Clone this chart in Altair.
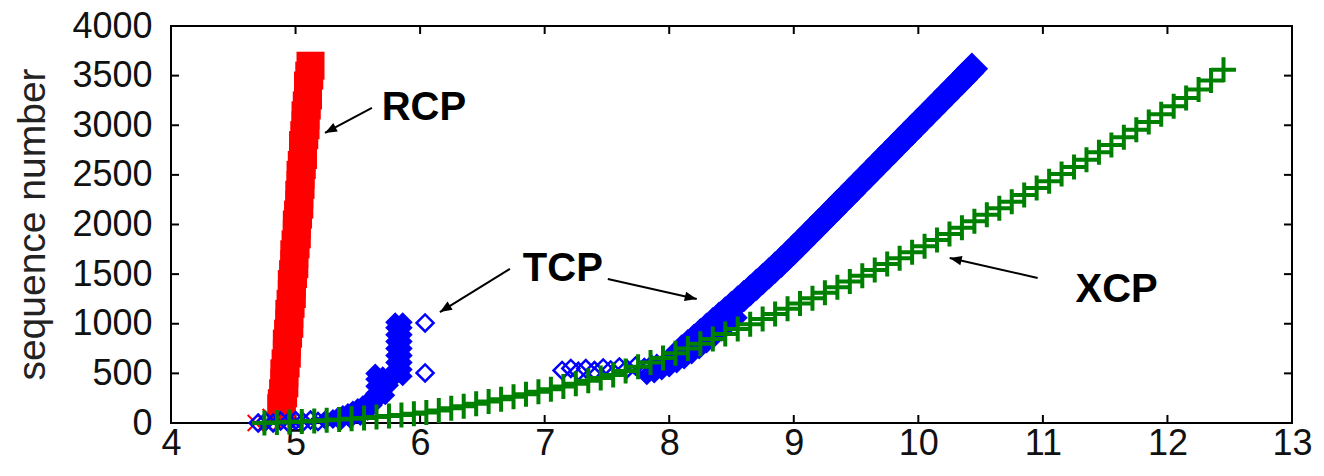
import altair as alt
import pandas as pd

# ---------------- data ----------------
x_ticks = [4, 5, 6, 7, 8, 9, 10, 11, 12, 13]
y_ticks = [0, 500, 1000, 1500, 2000, 2500, 3000, 3500, 4000]

# RCP (red) - dense steep band
rcp_seq = [150, 200, 300, 400, 500, 600, 700, 800, 900, 1000, 1100, 1200, 1300,
           1400, 1500, 1600, 1700, 1800, 1900, 2000, 2100, 2200, 2300, 2400, 2500,
           2600, 2700, 2800, 2900, 3000, 3100, 3200, 3300, 3400, 3500, 3600]
rcp_time = [4.885, 4.89, 4.90, 4.91, 4.91, 4.92, 4.93, 4.93, 4.94, 4.95, 4.95,
            4.96, 4.97, 4.97, 4.98, 4.99, 4.99, 5.00, 5.01, 5.01, 5.02, 5.03, 5.03,
            5.04, 5.04, 5.05, 5.06, 5.06, 5.07, 5.08, 5.08, 5.09, 5.10, 5.10, 5.11, 5.12]
# RCP sparse start points (crosses near zero)
rcp_start_time = [4.68, 4.76, 4.82, 4.88, 4.94, 4.80, 4.90]
rcp_start_seq = [0, 0, 20, 0, 30, 60, 80]

# TCP (blue) - sparse open diamonds
tcp_open_time = [4.70, 4.76, 4.82, 4.88, 4.94, 5.00, 5.06, 5.12, 5.18,
                 6.04, 6.04,
                 7.14, 7.21, 7.27, 7.33, 7.40, 7.47, 7.53, 7.60, 7.66, 7.73, 7.80, 7.86, 7.92]
tcp_open_seq = [0, 15, 0, 20, 5, 25, 10, 30, 15,
                1008, 504,
                530, 550, 520, 548, 528, 555, 535, 565, 545, 575, 560, 590, 575]
# TCP dense clusters (small)
tcp_fill_time = [5.24, 5.30, 5.34, 5.38, 5.42, 5.46, 5.50, 5.54, 5.58,
                 5.36, 5.44, 5.52, 5.58, 5.62, 5.66, 5.72,
                 5.64, 5.64, 5.64, 5.64, 5.70, 5.70, 5.70, 5.75, 5.75,
                 5.80, 5.80, 5.80, 5.80, 5.80, 5.80, 5.80, 5.80, 5.80,
                 5.86, 5.86, 5.86, 5.86, 5.86, 5.86, 5.86, 5.86, 5.86,
                 7.82, 7.88, 7.94, 8.00, 8.06, 8.12, 8.18, 8.24, 8.30,
                 7.90, 7.98, 8.05, 8.36, 8.42, 8.48, 8.55]
tcp_fill_seq = [30, 40, 60, 80, 100, 125, 150, 180, 220,
                20, 40, 70, 120, 180, 240, 280,
                300, 370, 440, 500, 330, 400, 470, 380, 450,
                470, 540, 610, 680, 750, 820, 890, 960, 1015,
                470, 540, 610, 680, 750, 820, 890, 960, 1015,
                480, 500, 530, 560, 600, 640, 690, 740, 800,
                600, 640, 690, 860, 920, 990, 1060]
# TCP dense main band
tcp_band_time = [8.10, 8.15, 8.20, 8.25, 8.30, 8.35, 8.40, 8.45, 8.50, 8.55, 8.60,
                 8.65, 8.70, 8.75, 8.80, 8.85, 8.90, 8.95, 9.00, 9.05, 9.10, 9.15,
                 9.20, 9.25, 9.30, 9.35, 9.40, 9.45, 9.50, 9.55, 9.60, 9.65, 9.70,
                 9.75, 9.80, 9.85, 9.90, 9.95, 10.00, 10.05, 10.10, 10.15, 10.20,
                 10.25, 10.30, 10.35, 10.40, 10.43]
tcp_band_seq = [730, 785, 840, 895, 950, 1005, 1060, 1115, 1170, 1225, 1280,
                1336, 1393, 1450, 1508, 1566, 1625, 1686, 1748, 1810, 1873, 1937,
                2000, 2064, 2127, 2191, 2255, 2318, 2382, 2446, 2509, 2573, 2637,
                2700, 2764, 2828, 2891, 2955, 3019, 3082, 3146, 3210, 3273,
                3337, 3400, 3464, 3528, 3570]

# XCP (green)
xcp_time = [4.75, 4.85, 4.95, 5.05, 5.15, 5.25, 5.35, 5.45, 5.55, 5.65, 5.75, 5.85,
            5.95, 6.05, 6.15, 6.25, 6.35, 6.45, 6.55, 6.65, 6.75, 6.85, 6.95, 7.05,
            7.15, 7.25, 7.35, 7.45, 7.55, 7.65, 7.75, 7.85, 7.95, 8.05, 8.15, 8.25,
            8.35, 8.45, 8.55, 8.65, 8.75, 8.85, 8.95, 9.05, 9.15, 9.25, 9.35, 9.45,
            9.55, 9.65, 9.75, 9.85, 9.95, 10.05, 10.15, 10.25, 10.35, 10.45, 10.55,
            10.65, 10.75, 10.85, 10.95, 11.05, 11.15, 11.25, 11.35, 11.45, 11.55,
            11.65, 11.75, 11.85, 11.95, 12.05, 12.15, 12.25, 12.35, 12.45]
xcp_seq = [0, 4, 9, 15, 21, 28, 35, 43, 51, 60, 70, 80,
           92, 106, 126, 148, 170, 193, 216, 240, 264, 289, 315, 341,
           368, 396, 425, 454, 484, 525, 567, 610, 655, 702, 750, 798,
           847, 896, 946, 996, 1047, 1098, 1150, 1203, 1257, 1312, 1368, 1425,
           1483, 1542, 1601, 1661, 1721, 1782, 1843, 1905, 1968, 2032, 2097,
           2163, 2230, 2298, 2367, 2437, 2508, 2580, 2653, 2727, 2802,
           2878, 2955, 3033, 3112, 3192, 3275, 3360, 3450, 3560]

# annotations
ann_text = ["RCP", "TCP", "XCP"]
ann_x = [6.03, 7.146, 11.592]
ann_y = [3174, 1552, 1340]

arrow_x = [5.613, 6.721, 7.507, 10.958]
arrow_y = [3174, 1552, 1451, 1461]
arrow_x2 = [5.236, 6.159, 8.221, 10.252]
arrow_y2 = [2922, 1118, 1249, 1663]
arrow_angle = [242, 238, 103, 283]

# ---------------- chart ----------------
W, H = 1121, 397
FONT = "Liberation Sans"
RED, BLUE, GREEN = "#ff0000", "#0000ff", "#008000"

xscale = alt.Scale(domain=[4, 13], nice=False, zero=False)
yscale = alt.Scale(domain=[0, 4000], nice=False)
xaxis = alt.Axis(values=x_ticks, ticks=False, tickSize=0, domain=False, grid=False,
                 labelFontSize=36, labelPadding=3, labelFlush=False, labelOverlap=False,
                 title=None, labelColor="#111111", labelFont=FONT, format="d")
yaxis = alt.Axis(values=y_ticks, ticks=False, tickSize=0, domain=False, grid=False,
                 labelFontSize=36, labelPadding=19, labelOverlap=False, format="d",
                 labelColor="#111111", labelFont=FONT,
                 title="sequence number", titleFontSize=39, titleFontWeight="normal",
                 titleFont=FONT, titleColor="#222222", titleAngle=270,
                 titleX=-139, titleY=198, titleAlign="center", titleBaseline="middle")


def X(f):
    return alt.X(f, type="quantitative", scale=xscale, axis=xaxis)


def Y(f):
    return alt.Y(f, type="quantitative", scale=yscale, axis=yaxis)


rcp = pd.DataFrame({"time": rcp_time, "seq": rcp_seq})
rcp_s = pd.DataFrame({"time": rcp_start_time, "seq": rcp_start_seq})
tcp_o = pd.DataFrame({"time": tcp_open_time, "seq": tcp_open_seq})
tcp_f = pd.DataFrame({"time": tcp_fill_time, "seq": tcp_fill_seq})
tcp_b = pd.DataFrame({"time": tcp_band_time, "seq": tcp_band_seq})
xcp = pd.DataFrame({"time": xcp_time, "seq": xcp_seq})
ann = pd.DataFrame({"label": ann_text, "time": ann_x, "seq": ann_y})
arr = pd.DataFrame({"time": arrow_x, "seq": arrow_y, "time2": arrow_x2,
                    "seq2": arrow_y2, "ang": arrow_angle})
xt = pd.DataFrame({"time": x_ticks})
yt = pd.DataFrame({"seq": y_ticks})

XSHAPE = "M-1,-1L1,1M-1,1L1,-1"
PLUS = "M-1,0L1,0M0,-1L0,1"
HEAD = "M0,0L0.4,1L-0.4,1Z"

l_rcp = alt.Chart(rcp).mark_point(shape="square", filled=True, size=784, color=RED,
                                  opacity=1).encode(x=X("time"), y=Y("seq"))
l_rcp_s = alt.Chart(rcp_s).mark_point(shape=XSHAPE, filled=False, size=256, color=RED,
                                      strokeWidth=2, opacity=1).encode(x=X("time"), y=Y("seq"))
l_tcp_b = alt.Chart(tcp_b).mark_point(shape="diamond", filled=True, size=1050, color=BLUE,
                                      opacity=1).encode(x=X("time"), y=Y("seq"))
l_tcp_f = alt.Chart(tcp_f).mark_point(shape="diamond", filled=True, size=400, color=BLUE,
                                      opacity=1).encode(x=X("time"), y=Y("seq"))
l_tcp_o = alt.Chart(tcp_o).mark_point(shape="diamond", filled=False, size=289, color=BLUE,
                                      strokeWidth=2.5, opacity=1).encode(x=X("time"), y=Y("seq"))
l_xcp = alt.Chart(xcp).mark_point(shape=PLUS, filled=False, size=625, color=GREEN,
                                  strokeWidth=4, opacity=1).encode(x=X("time"), y=Y("seq"))

l_arr = alt.Chart(arr).mark_rule(color="black", strokeWidth=2).encode(
    x=X("time"), y=Y("seq"), x2="time2", y2="seq2")
l_head = alt.Chart(arr).mark_point(shape=HEAD, filled=True, size=576, color="black",
                                   opacity=1).encode(
    x=X("time2"), y=Y("seq2"), angle=alt.Angle("ang:Q", scale=None))
l_txt = alt.Chart(ann).mark_text(fontSize=40, fontWeight="bold", font=FONT, color="black",
                                 align="center", baseline="middle").encode(
    x=X("time"), y=Y("seq"), text="label:N")

TK = 8
l_tb = alt.Chart(xt).mark_rule(color="black", strokeWidth=2).encode(
    x=X("time"), y=alt.value(H), y2=alt.value(H - TK))
l_tt = alt.Chart(xt).mark_rule(color="black", strokeWidth=2).encode(
    x=X("time"), y=alt.value(0), y2=alt.value(TK))
l_tl = alt.Chart(yt).mark_rule(color="black", strokeWidth=2).encode(
    y=Y("seq"), x=alt.value(0), x2=alt.value(TK))
l_tr = alt.Chart(yt).mark_rule(color="black", strokeWidth=2).encode(
    y=Y("seq"), x=alt.value(W - TK), x2=alt.value(W))

chart = alt.layer(
    l_tb, l_tt, l_tl, l_tr,
    l_rcp, l_rcp_s, l_tcp_b, l_tcp_f, l_tcp_o, l_xcp,
    l_arr, l_head, l_txt
).properties(
    width=W, height=H,
    autosize=alt.AutoSizeParams(type="none"),
    padding={"left": 163, "top": 18, "right": 24, "bottom": 45},
    background="white",
).configure_view(stroke="black", strokeWidth=2)

chart.save("out.html", embed_options={"renderer": "svg", "actions": False})
